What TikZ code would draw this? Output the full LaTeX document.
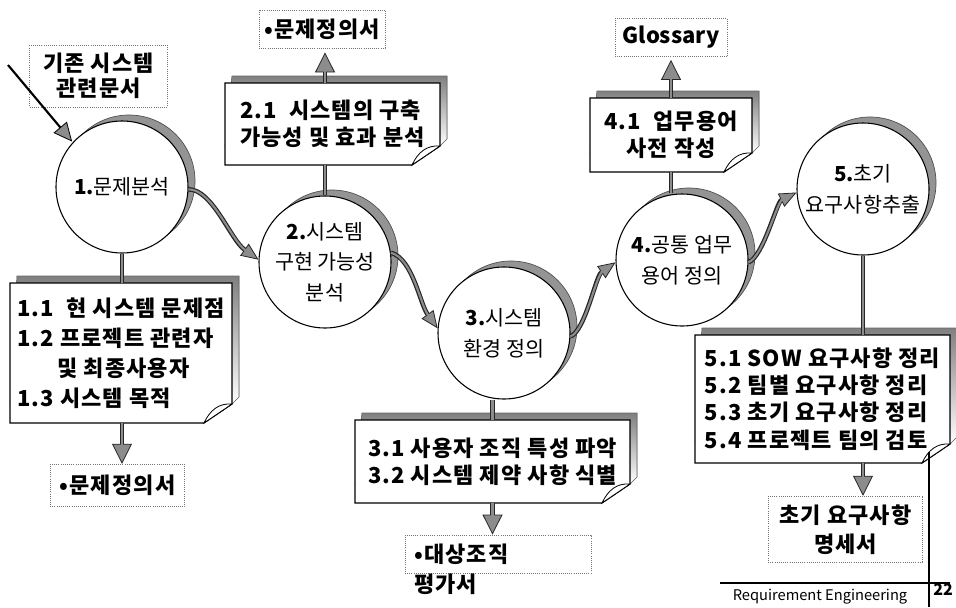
\documentclass[tikz,border=0pt]{standalone}
\usepackage{fontspec}
\setmainfont{Noto Sans CJK KR}
\newfontfamily\wide[LetterSpace=5]{Noto Sans CJK KR}
\usetikzlibrary{arrows.meta,calc}
\definecolor{shade}{gray}{0.58}
\definecolor{flowgray}{gray}{0.55}
\newcommand\notebox[7]{%
  \fill[shade, draw=black!60, line width=0.4pt] ({#2+7},{#3-7}) -- ({#4+7},{#3-7}) -- ({#4+7},{#5-26}) -- (#4,{#5-19}) -- (#2,{#5-19}) -- cycle;
  \draw[fill=white, line width=0.9pt] (#2,#3) -- (#4,#3) -- (#4,{#5-19}) -- ({#4-28},#5) -- (#2,#5) -- cycle;
  \draw[line width=0.6pt, fill=white] ({#4-28},#5) .. controls ({#4-22},{#5-13}) and ({#4-13},{#5-20}) .. (#4,{#5-19}) -- cycle;
  \node[boxtxt, #7, minimum width={(#4-#2)*0.75pt}, minimum height={(#5-#3)*0.75pt}] (#1) at ({(#2+#4)/2},{(#3+#5)/2}) {#6};
}
\begin{document}
\begin{tikzpicture}[x=0.75pt,y=-0.75pt,
  boxtxt/.style={font=\wide\bfseries\fontsize{16.5}{20.5}\selectfont, align=left, inner sep=0pt},
  proc/.style={circle, draw, fill=white, line width=0.8pt, minimum size=99pt, inner sep=0pt, align=center, font=\fontsize{15.5}{23}\selectfont},
  csh/.style={fill=shade, draw=black!70, line width=0.5pt},
  outbox/.style={draw=black!55, densely dotted, line width=0.6pt, inner sep=0pt, align=center, font=\wide\bfseries\fontsize{16.5}{19}\selectfont},
  flow/.style={line width=3.4pt, draw=black!85, -{Triangle[length=13pt,width=11pt,line width=0.6pt,fill=flowgray]}, postaction={draw=flowgray, line width=1.6pt, -, shorten >=12pt}},
  bigflow/.style={line width=3.6pt, draw=black!85, -{Triangle[length=15pt,width=15pt,line width=0.6pt,fill=flowgray]}, postaction={draw=flowgray, line width=1.8pt, -, shorten >=14pt}},
  link/.style={line width=3.6pt, draw=black!85, postaction={draw=flowgray, line width=1.8pt}},
  inarrow/.style={line width=1.6pt, -{Triangle[length=14pt,width=13pt,line width=0.6pt,fill=flowgray]}}
]
\useasboundingbox (0,0) rectangle (956,607);

% circle shadows
\fill[csh] (129,181) circle[radius=49.5pt];
\fill[csh] (332,256) circle[radius=49.5pt];
\fill[csh] (511,327) circle[radius=49.5pt];
\fill[csh] (689,254) circle[radius=49.5pt];
\fill[csh] (870,183) circle[radius=49.5pt];

% circles
\node[proc] (c1) at (122,187) {\textbf{1.}문제분석};
\node[proc] (c2) at (325,262) {\textbf{2.}시스템\\구현 가능성\\분석};
\node[proc] (c3) at (504,333) {\textbf{3.}시스템\\환경 정의};
\node[proc] (c4) at (682,260) {\textbf{4.}공통 업무\\용어 정의};
\node[proc] (c5) at (863,189) {\textbf{5.}초기\\요구사항추출};

% note boxes
\notebox{b11}{10}{283}{232}{423}{1.1~~현 시스템 문제점\\[2pt]1.2 프로젝트 관련자\\[2pt]\hspace*{30pt}및 최종사용자\\[2pt]1.3 시스템 목적}{}
\notebox{b21}{225}{83}{440}{165}{2.1~~시스템의 구축\\가능성 및 효과 분석}{}
\notebox{b31}{355}{420}{630}{503}{3.1 사용자 조직 특성 파악\\3.2 시스템 제약 사항 식별}{}
\notebox{b41}{590}{98}{752}{172}{4.1~~업무용어\\사전 작성}{align=center}
\notebox{b51}{695}{335}{950}{463}{5.1 SOW 요구사항 정리\\5.2 팀별 요구사항 정리\\5.3 초기 요구사항 정리\\5.4 프로젝트 팀의 검토}{}

% output / input boxes
\node[outbox, minimum width=103pt, minimum height=46.5pt] (i0) at (98.5,76) {기존 시스템\\관련문서};
\node[outbox, minimum width=101pt, minimum height=32pt] (o1) at (117.5,485.5) {•문제정의서};
\node[outbox, minimum width=94.5pt, minimum height=28.5pt] (o2) at (322,29) {•문제정의서};
\node[outbox, minimum width=139.5pt, minimum height=28.5pt] (o3) at (498,554) {};
\node[font=\wide\bfseries\fontsize{16.5}{22}\selectfont, align=left, anchor=north west, inner sep=0pt] (o3t) at (414,544) {•대상조직\\평가서};
\node[outbox, minimum width=84pt, minimum height=29pt, font=\bfseries\fontsize{16.5}{19}\selectfont] (o4) at (671,37.5) {Glossary};
\node[outbox, minimum width=116pt, minimum height=50pt, font=\wide\bfseries\fontsize{16.5}{22}\selectfont] (o5) at (845.5,529.5) {초기 요구사항\\명세서};

% links circle - box
\draw[link] (c1.south) -- (c1.south |- b11.north);
\draw[link] (c2.north) -- (c2.north |- b21.south);
\draw[link] (b31.north |- c3.south) -- (b31.north);
\draw[link] (b41.south) -- (b41.south |- c4.north);
\draw[link] (c5.south) -- (c5.south |- b51.north);

% outputs
\draw[bigflow] (b11.south -| c1) -- (o1.north -| c1);
\draw[bigflow] (b21.north -| c2) -- ([yshift=-3pt]o2.south -| c2);
\draw[bigflow] (b31.south) -- (b31.south |- o3.north);
\draw[bigflow] (b41.north) -- ([yshift=-2pt]b41.north |- o4.south);
\draw[bigflow] (b51.south -| c5) -- (o5.north -| c5);

% input
\coordinate (src) at (8,65);
\draw[inarrow] (src) -- ([shift={(-4pt,-3pt)}]c1.132);

% flows between processes
\draw[flow] (c1.-2) .. controls +(24,0) and +(-28,-20) .. (c2.178);
\draw[flow] (c2.8) .. controls +(22,6) and +(-18,-25) .. (c3.176);
\draw[flow] (c3.-3) .. controls +(15,-6) and +(-20,14) .. (c4.182);
\draw[flow] (c4.-2) .. controls +(15,-6) and +(-20,10) .. (c5.183);

% footer
\coordinate (fl) at (720,583);
\coordinate (fr) at (950,583);
\coordinate (vt) at (929,452);
\coordinate (vb) at (929,607);
\draw[line width=1.4pt] (fl) -- (fr);
\draw[line width=1.1pt] (vt) -- (vb);
\node[font=\fontsize{11}{13}\selectfont, inner sep=0pt] (ft) at (820,597) {Requirement Engineering};
\node[font=\bfseries\fontsize{12}{14}\selectfont, inner sep=0pt] (pg) at (943,590) {22};
\end{tikzpicture}
\end{document}
